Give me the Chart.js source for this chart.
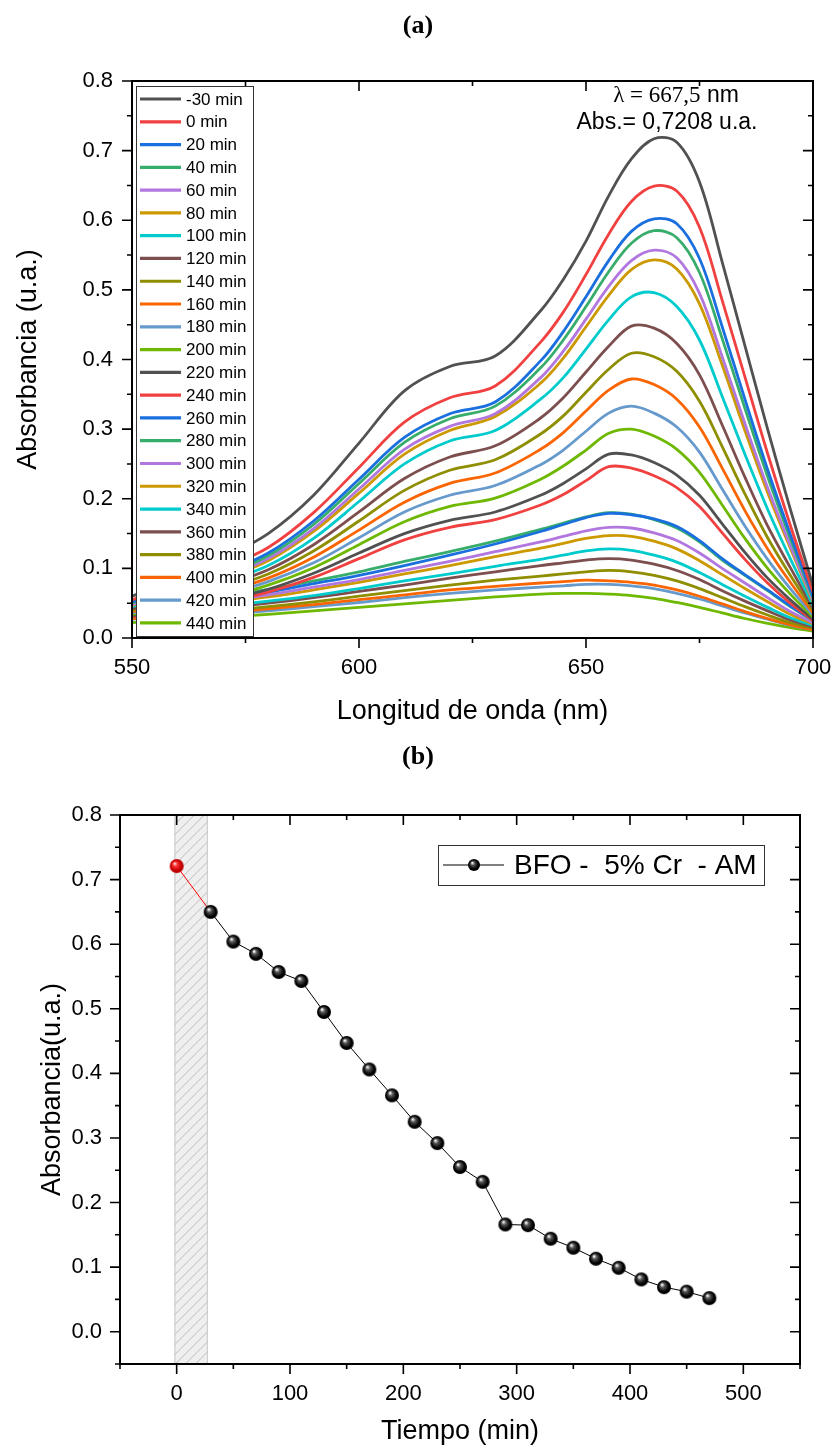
<!DOCTYPE html>
<html><head><meta charset="utf-8">
<script src="https://cdn.jsdelivr.net/npm/chart.js@4.4.0/dist/chart.umd.min.js"></script>
<style>
html,body{margin:0;padding:0;background:#fff;}
#wrap{position:relative;width:837px;height:1452px;overflow:hidden;background:#fff;}
canvas{position:absolute;left:0;}
#c1{top:0;width:837px;height:740px;}
#c2{top:740px;width:837px;height:712px;}
</style></head><body>
<div id="wrap"><canvas id="c1" width="837" height="740"></canvas><canvas id="c2" width="837" height="712"></canvas></div>
<script>
// ---------- DATA (a) ----------
const wavelengths = [550,560,570,580,590,600,610,620,630,640,645,650,655,660,665,670,675,680,685,690,695,700];
const seriesLabels = ['-30 min','0 min','20 min','40 min','60 min','80 min','100 min','120 min','140 min','160 min','180 min','200 min','220 min','240 min','260 min','280 min','300 min','320 min','340 min','360 min','380 min','400 min','420 min','440 min'];
const s_m30 = [0.060,0.085,0.115,0.150,0.205,0.280,0.355,0.390,0.405,0.470,0.515,0.570,0.635,0.688,0.717,0.712,0.655,0.540,0.420,0.300,0.185,0.075];
const s_0   = [0.055,0.075,0.100,0.130,0.180,0.245,0.310,0.345,0.362,0.425,0.468,0.522,0.580,0.627,0.649,0.642,0.590,0.485,0.375,0.265,0.162,0.066];
const s_20  = [0.052,0.070,0.093,0.122,0.168,0.228,0.288,0.322,0.339,0.398,0.440,0.490,0.542,0.584,0.602,0.595,0.545,0.447,0.343,0.242,0.149,0.060];
const s_40  = [0.050,0.068,0.090,0.118,0.163,0.222,0.281,0.315,0.333,0.388,0.428,0.476,0.526,0.567,0.585,0.575,0.525,0.430,0.330,0.232,0.143,0.057];
const s_60  = [0.048,0.065,0.087,0.114,0.157,0.214,0.271,0.304,0.322,0.374,0.412,0.458,0.505,0.542,0.557,0.546,0.495,0.404,0.308,0.216,0.133,0.054];
const s_80  = [0.047,0.064,0.085,0.111,0.153,0.208,0.264,0.298,0.318,0.366,0.402,0.447,0.492,0.529,0.543,0.530,0.480,0.392,0.298,0.209,0.129,0.052];
const s_100 = [0.045,0.060,0.080,0.104,0.143,0.196,0.250,0.283,0.298,0.343,0.374,0.415,0.457,0.490,0.496,0.476,0.428,0.347,0.264,0.185,0.114,0.047];
const s_120 = [0.042,0.056,0.075,0.098,0.134,0.181,0.229,0.260,0.276,0.316,0.345,0.382,0.419,0.448,0.445,0.423,0.378,0.306,0.231,0.161,0.101,0.043];
const s_140 = [0.040,0.053,0.070,0.092,0.125,0.168,0.212,0.241,0.256,0.293,0.319,0.353,0.386,0.409,0.404,0.383,0.340,0.275,0.207,0.144,0.090,0.040];
const s_160 = [0.038,0.050,0.066,0.086,0.116,0.155,0.195,0.222,0.237,0.271,0.295,0.326,0.356,0.372,0.364,0.343,0.303,0.244,0.183,0.128,0.080,0.036];
const s_180 = [0.036,0.047,0.062,0.081,0.108,0.144,0.181,0.205,0.219,0.249,0.270,0.297,0.323,0.333,0.323,0.303,0.267,0.214,0.161,0.113,0.071,0.033];
const s_200 = [0.034,0.045,0.058,0.076,0.101,0.134,0.167,0.189,0.201,0.228,0.247,0.270,0.294,0.300,0.290,0.271,0.238,0.191,0.143,0.100,0.063,0.030];
const s_220 = [0.032,0.042,0.054,0.070,0.093,0.122,0.150,0.169,0.181,0.205,0.222,0.243,0.264,0.263,0.252,0.234,0.205,0.164,0.123,0.086,0.055,0.027];
const s_240 = [0.030,0.040,0.051,0.066,0.087,0.114,0.141,0.159,0.170,0.191,0.206,0.226,0.246,0.244,0.233,0.216,0.189,0.151,0.113,0.079,0.050,0.025];
const s_260 = [0.042,0.049,0.057,0.066,0.078,0.090,0.104,0.119,0.135,0.153,0.163,0.173,0.179,0.177,0.171,0.160,0.140,0.114,0.091,0.069,0.046,0.026];
const s_280 = [0.045,0.052,0.060,0.070,0.082,0.095,0.110,0.124,0.139,0.156,0.165,0.174,0.180,0.178,0.170,0.158,0.138,0.112,0.090,0.068,0.045,0.025];
const s_300 = [0.040,0.046,0.053,0.062,0.073,0.084,0.097,0.110,0.124,0.138,0.146,0.154,0.159,0.158,0.151,0.140,0.122,0.100,0.079,0.058,0.038,0.022];
const s_320 = [0.038,0.044,0.051,0.059,0.069,0.080,0.092,0.104,0.117,0.129,0.136,0.143,0.147,0.146,0.139,0.128,0.111,0.091,0.071,0.052,0.034,0.020];
const s_340 = [0.035,0.040,0.046,0.053,0.061,0.071,0.082,0.092,0.103,0.113,0.119,0.125,0.128,0.126,0.119,0.109,0.094,0.077,0.060,0.044,0.029,0.018];
const s_360 = [0.033,0.038,0.043,0.050,0.058,0.067,0.076,0.086,0.095,0.104,0.108,0.112,0.114,0.112,0.106,0.097,0.084,0.068,0.053,0.039,0.026,0.016];
const s_380 = [0.030,0.034,0.039,0.045,0.052,0.060,0.068,0.076,0.083,0.089,0.092,0.095,0.097,0.095,0.090,0.082,0.071,0.058,0.045,0.033,0.022,0.014];
const s_400 = [0.028,0.032,0.036,0.042,0.048,0.055,0.062,0.069,0.074,0.079,0.081,0.083,0.082,0.080,0.076,0.069,0.060,0.049,0.038,0.028,0.019,0.012];
const s_420 = [0.027,0.030,0.034,0.039,0.045,0.051,0.058,0.064,0.069,0.073,0.075,0.077,0.077,0.075,0.071,0.064,0.056,0.046,0.036,0.027,0.018,0.012];
const s_440 = [0.022,0.026,0.030,0.034,0.039,0.044,0.049,0.054,0.059,0.063,0.064,0.064,0.063,0.061,0.057,0.051,0.044,0.036,0.028,0.021,0.015,0.010];
const seriesValues = [s_m30,s_0,s_20,s_40,s_60,s_80,s_100,s_120,s_140,s_160,s_180,s_200,s_220,s_240,s_260,s_280,s_300,s_320,s_340,s_360,s_380,s_400,s_420,s_440];
const palette = ['#515151','#F14040','#1A6FDF','#37AD6B','#B177DE','#CC9900','#00CBCC','#7D4E4E','#8E8E00','#FB6501','#6699CC','#6FB802'];

// ---------- DATA (b) ----------
const times = [0,30,50,70,90,110,130,150,170,190,210,230,250,270,290,310,330,350,370,390,410,430,450,470];
const absorb = [0.721,0.650,0.604,0.585,0.557,0.543,0.495,0.447,0.406,0.366,0.325,0.292,0.255,0.232,0.166,0.165,0.144,0.130,0.113,0.099,0.081,0.069,0.062,0.052];
const hatchRange = [-2, 27.5];
const legendB = 'BFO -  5% Cr  - AM';

const FONT = '"Liberation Sans", Arial, sans-serif';
Chart.defaults.font.family = FONT;
Chart.defaults.color = '#000';

function sphere(r, dark, mid, hl) {
  const c = document.createElement('canvas');
  const s = 2 * r + 2; c.width = c.height = s;
  const g = c.getContext('2d'); const cx = s / 2, cy = s / 2;
  const grd = g.createRadialGradient(cx - r * 0.3, cy - r * 0.38, r * 0.05, cx, cy, r);
  grd.addColorStop(0, hl); grd.addColorStop(0.3, mid); grd.addColorStop(0.75, dark); grd.addColorStop(1, dark);
  g.fillStyle = grd; g.beginPath(); g.arc(cx, cy, r, 0, Math.PI * 2); g.fill();
  return c;
}
const blackBall = sphere(7, '#000', '#555', '#fff');
const redBall = sphere(7, '#c00000', '#ff3030', '#ffe0e0');
const blackBallSmall = sphere(6, '#000', '#555', '#fff');

function lbl(step) {
  return (v) => { const k = Math.round(v * 100); return (k % step === 0 && v >= 0) ? (k / 100).toFixed(1) : ''; };
}

function frameTicks(chart) {
  const {ctx, chartArea: a, scales: {x, y}} = chart;
  ctx.save();
  ctx.strokeStyle = '#000';
  ctx.lineWidth = 1.6;
  ctx.beginPath();
  x.ticks.forEach(t => {
    const px = x.getPixelForValue(t.value);
    const L = t.label !== '' ? 10 : 5;
    ctx.moveTo(px, a.bottom); ctx.lineTo(px, a.bottom + L);
    ctx.moveTo(px, a.top); ctx.lineTo(px, a.top + L);
  });
  y.ticks.forEach(t => {
    const py = y.getPixelForValue(t.value);
    const L = t.label !== '' ? 10 : 5;
    ctx.moveTo(a.left, py); ctx.lineTo(a.left - L, py);
    ctx.moveTo(a.right, py); ctx.lineTo(a.right - L, py);
  });
  ctx.stroke();
  ctx.lineWidth = 2;
  ctx.strokeRect(a.left, a.top, a.right - a.left, a.bottom - a.top);
  ctx.restore();
}

// ---------- Chart (a) ----------
const datasetsA = seriesValues.map((vals, i) => ({
  label: seriesLabels[i],
  data: wavelengths.map((w, j) => ({x: w, y: vals[j]})),
  borderColor: palette[i % palette.length],
  backgroundColor: palette[i % palette.length],
  borderWidth: 2.8,
  pointRadius: 0,
  tension: 0.35,
  fill: false
}));

const pluginA = {
  id: 'decoA',
  afterDatasetsDraw(chart) {
    const {ctx, chartArea: a} = chart;
    ctx.save();
    const x0 = a.left + 4, y0 = a.top + 5, w = 117, h = 550;
    ctx.fillStyle = '#fff'; ctx.fillRect(x0, y0, w, h);
    ctx.strokeStyle = '#333'; ctx.lineWidth = 1; ctx.strokeRect(x0 + 0.5, y0 + 0.5, w, h);
    ctx.font = '17px ' + FONT; ctx.textBaseline = 'middle'; ctx.textAlign = 'left';
    chart.data.datasets.forEach((ds, i) => {
      const cy = y0 + 13 + i * 22.78;
      ctx.strokeStyle = ds.borderColor; ctx.lineWidth = 3.2;
      ctx.beginPath(); ctx.moveTo(x0 + 4, cy); ctx.lineTo(x0 + 45, cy); ctx.stroke();
      ctx.fillStyle = '#000'; ctx.fillText(ds.label, x0 + 50, cy + 1);
    });
    const p1 = '\u03BB = 667,5', p2 = ' nm';
    ctx.font = '23px "Liberation Serif", "Times New Roman", serif';
    const w1 = ctx.measureText(p1).width;
    ctx.font = '23px ' + FONT;
    const w2 = ctx.measureText(p2).width;
    const sx = 676 - (w1 + w2) / 2;
    ctx.fillStyle = '#000';
    ctx.font = '23px "Liberation Serif", "Times New Roman", serif';
    ctx.fillText(p1, sx, 96);
    ctx.font = '23px ' + FONT;
    ctx.fillText(p2, sx + w1, 96);
    ctx.textAlign = 'center';
    ctx.fillText('Abs.= 0,7208 u.a.', 667, 123);
    ctx.font = 'bold 26px "Liberation Serif", "Times New Roman", serif';
    ctx.fillText('(a)', 418, 26);
    ctx.restore();
    frameTicks(chart);
  }
};

new Chart(document.getElementById('c1'), {
  type: 'line',
  data: {datasets: datasetsA},
  options: {
    responsive: false, animation: false, devicePixelRatio: 1,
    layout: {padding: {left: 0, top: 81, right: 24, bottom: 0}},
    plugins: {legend: {display: false}, tooltip: {enabled: false}},
    scales: {
      x: {
        type: 'linear', min: 550, max: 700,
        grid: {display: false, drawTicks: false}, border: {display: false},
        ticks: {stepSize: 25, autoSkip: false, maxRotation: 0, padding: 17, font: {size: 22},
          callback: v => (v % 50 === 0 ? String(v) : '')},
        title: {display: true, text: 'Longitud de onda (nm)', font: {size: 27}, padding: {top: 0, bottom: 12}},
        afterFit: s => { s.height = 102; s.paddingLeft = 0; s.paddingRight = 0; }
      },
      y: {
        min: 0, max: 0.8,
        grid: {display: false, drawTicks: false}, border: {display: false},
        ticks: {stepSize: 0.05, autoSkip: false, padding: 19, font: {size: 22}, callback: lbl(10)},
        title: {display: true, text: 'Absorbancia (u.a.)', font: {size: 27}, padding: {top: 12, bottom: 0}},
        afterFit: s => { s.width = 132; s.paddingTop = 0; s.paddingBottom = 0; }
      }
    }
  },
  plugins: [pluginA]
});

// ---------- Chart (b) ----------
const pluginB = {
  id: 'decoB',
  beforeDatasetsDraw(chart) {
    const {ctx, chartArea: a, scales: {x}} = chart;
    const xl = x.getPixelForValue(hatchRange[0]), xr = x.getPixelForValue(hatchRange[1]);
    ctx.save();
    ctx.fillStyle = '#efefef';
    ctx.fillRect(xl, a.top, xr - xl, a.bottom - a.top);
    ctx.beginPath(); ctx.rect(xl, a.top, xr - xl, a.bottom - a.top); ctx.clip();
    ctx.strokeStyle = '#bcbcbc'; ctx.lineWidth = 1;
    ctx.beginPath();
    for (let yy = a.top - 60; yy < a.bottom + 60; yy += 10) {
      ctx.moveTo(xl - 5, yy + 45); ctx.lineTo(xr + 5, yy + 45 - (xr - xl + 10));
    }
    ctx.stroke();
    ctx.restore();
    ctx.save();
    ctx.strokeStyle = '#c8c8c8'; ctx.lineWidth = 1;
    ctx.strokeRect(xl + 0.5, a.top, xr - xl - 1, a.bottom - a.top);
    ctx.restore();
  },
  afterDatasetsDraw(chart) {
    const {ctx, chartArea: a} = chart;
    frameTicks(chart);
    ctx.save();
    const x0 = a.left + 318, y0 = a.top + 30, w = 326, h = 40;
    ctx.fillStyle = '#fff'; ctx.fillRect(x0, y0, w, h);
    ctx.strokeStyle = '#333'; ctx.lineWidth = 1; ctx.strokeRect(x0 + 0.5, y0 + 0.5, w, h);
    const cy = y0 + 20;
    ctx.strokeStyle = '#000'; ctx.lineWidth = 1;
    ctx.beginPath(); ctx.moveTo(x0 + 5, cy); ctx.lineTo(x0 + 66, cy); ctx.stroke();
    ctx.drawImage(blackBallSmall, x0 + 36 - blackBallSmall.width / 2, cy - blackBallSmall.height / 2);
    ctx.fillStyle = '#000'; ctx.font = '28px ' + FONT; ctx.textBaseline = 'middle'; ctx.textAlign = 'left';
    ctx.fillText(legendB, x0 + 76, cy + 1);
    ctx.font = 'bold 26px "Liberation Serif", "Times New Roman", serif'; ctx.textAlign = 'center';
    ctx.fillText('(b)', 418, 17);
    ctx.restore();
  }
};

new Chart(document.getElementById('c2'), {
  type: 'line',
  data: {datasets: [{
    label: legendB,
    data: times.map((t, i) => ({x: t, y: absorb[i]})),
    borderColor: '#000', borderWidth: 1,
    segment: {borderColor: c => (c.p0DataIndex === 0 ? '#ff0000' : '#000')},
    pointStyle: c => (c.dataIndex === 0 ? redBall : blackBall),
    pointRadius: 7, tension: 0, fill: false
  }]},
  options: {
    responsive: false, animation: false, devicePixelRatio: 1,
    layout: {padding: {left: 0, top: 75, right: 37, bottom: 0}},
    plugins: {legend: {display: false}, tooltip: {enabled: false}},
    scales: {
      x: {
        type: 'linear', min: -50, max: 550,
        grid: {display: false, drawTicks: false}, border: {display: false},
        ticks: {stepSize: 50, autoSkip: false, maxRotation: 0, padding: 17, font: {size: 22},
          callback: v => (v % 100 === 0 ? String(v) : '')},
        title: {display: true, text: 'Tiempo (min)', font: {size: 27}, padding: {top: 0, bottom: 4}},
        afterFit: s => { s.height = 88; s.paddingLeft = 0; s.paddingRight = 0; }
      },
      y: {
        min: -0.05, max: 0.8,
        grid: {display: false, drawTicks: false}, border: {display: false},
        ticks: {stepSize: 0.05, autoSkip: false, padding: 18, font: {size: 22}, callback: lbl(10)},
        title: {display: true, text: 'Absorbancia(u.a.)', font: {size: 27}, padding: {top: 36, bottom: 0}},
        afterFit: s => { s.width = 120; s.paddingTop = 0; s.paddingBottom = 0; }
      }
    }
  },
  plugins: [pluginB]
});
</script>
</body></html>
